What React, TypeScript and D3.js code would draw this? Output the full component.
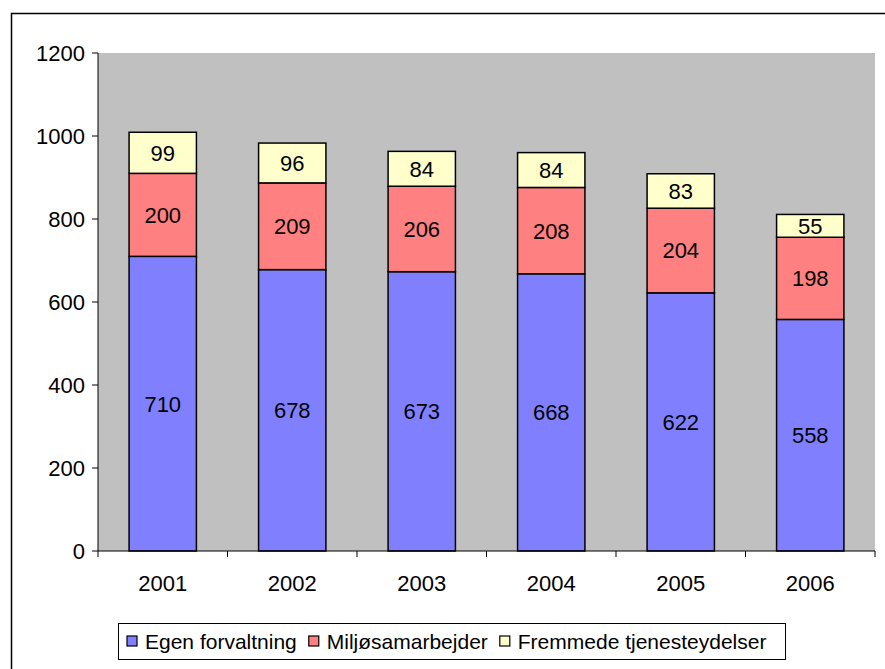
import React from "react";
import * as d3 from "d3";

const years = ["2001", "2002", "2003", "2004", "2005", "2006"];
const egen = [710, 678, 673, 668, 622, 558];
const miljo = [200, 209, 206, 208, 204, 198];
const fremmede = [99, 96, 84, 84, 83, 55];
const seriesNames = ["Egen forvaltning", "Miljøsamarbejder", "Fremmede tjenesteydelser"];
const seriesColors = ["#8080FF", "#FF8080", "#FFFFCC"];
const yTicks = [0, 200, 400, 600, 800, 1000, 1200];

function measure(text: string, size: number, family: string): number {
  try {
    const c = document.createElement("canvas").getContext("2d");
    if (c) {
      c.font = `${size}px ${family}`;
      return c.measureText(text).width;
    }
  } catch (e) {}
  return text.length * size * 0.5;
}

export default function App() {
  const W = 885, H = 669;
  const left = 98, right = 875, top = 53, bottom = 551;
  const x = d3.scaleBand<string>().domain(years).range([left, right]).paddingInner(0).paddingOuter(0);
  const y = d3.scaleLinear().domain([0, 1200]).range([bottom, top]);
  const table = years.map((yr, i) => ({ year: yr, a: egen[i], b: miljo[i], c: fremmede[i] }));
  const stacked = d3.stack<any>().keys(["a", "b", "c"])(table);
  const bw = x.bandwidth() * 0.52;
  const font = "'Liberation Sans', Arial, sans-serif";
  const fs = 22;
  const lfs = 21;

  // legend flow layout
  const legendItems: { sx: number; tx: number }[] = [];
  let cx = 127;
  seriesNames.forEach((n) => {
    legendItems.push({ sx: cx, tx: cx + 18 });
    cx += 18 + measure(n, lfs, font) + 12;
  });
  const boundaries = [left, ...years.map((yr) => (x(yr) as number) + x.bandwidth())];

  return (
    <svg width={W} height={H} style={{ position: "absolute", left: 0, top: 0, background: "#fff" }} fontFamily={font}>
      <rect x={0} y={0} width={W} height={H} fill="#fff" />
      {/* outer frame */}
      <path d={`M11.5,${H + 2} L11.5,13.5 L${W + 2},13.5`} fill="none" stroke="#000" strokeWidth={1.5} />
      {/* plot area */}
      <rect x={left} y={top} width={right - left} height={bottom - top} fill="#C0C0C0" />
      {/* bars */}
      {stacked.map((s, si) =>
        s.map((d, i) => {
          const x0 = (x(years[i]) as number) + (x.bandwidth() - bw) / 2;
          const y0 = y(d[1]);
          const y1 = y(d[0]);
          return (
            <g key={`${si}-${i}`}>
              <rect x={x0} y={y0} width={bw} height={y1 - y0} fill={seriesColors[si]} stroke="#000" strokeWidth={1.5} />
              <text x={x0 + bw / 2} y={(y0 + y1) / 2} dy="0.36em" textAnchor="middle" fontSize={fs} fill="#000">
                {d[1] - d[0]}
              </text>
            </g>
          );
        })
      )}
      {/* y axis */}
      <line x1={left} x2={left} y1={top} y2={bottom} stroke="#000" strokeWidth={1} />
      {yTicks.map((t) => (
        <g key={t}>
          <line x1={left - 6} x2={left} y1={y(t)} y2={y(t)} stroke="#000" strokeWidth={1} />
          <text x={left - 13} y={y(t)} dy="0.36em" textAnchor="end" fontSize={fs} fill="#000">
            {t}
          </text>
        </g>
      ))}
      {/* x axis */}
      <line x1={left} x2={right} y1={bottom} y2={bottom} stroke="#000" strokeWidth={1} />
      {boundaries.map((bx, i) => (
        <line key={i} x1={bx} x2={bx} y1={bottom} y2={bottom + 6} stroke="#000" />
      ))}
      {years.map((yr) => (
        <text key={yr} x={(x(yr) as number) + x.bandwidth() / 2} y={583} dy="0.36em" textAnchor="middle" fontSize={fs} fill="#000">
          {yr}
        </text>
      ))}
      {/* legend */}
      <rect x={118.5} y={623.5} width={667} height={36} fill="#fff" stroke="#000" strokeWidth={1} />
      {seriesNames.map((n, i) => (
        <g key={n}>
          <rect x={legendItems[i].sx} y={636} width={10} height={10} fill={seriesColors[i]} stroke="#000" strokeWidth={1.2} />
          <text x={legendItems[i].tx} y={641.5} dy="0.36em" fontSize={lfs} fill="#000">
            {n}
          </text>
        </g>
      ))}
    </svg>
  );
}
